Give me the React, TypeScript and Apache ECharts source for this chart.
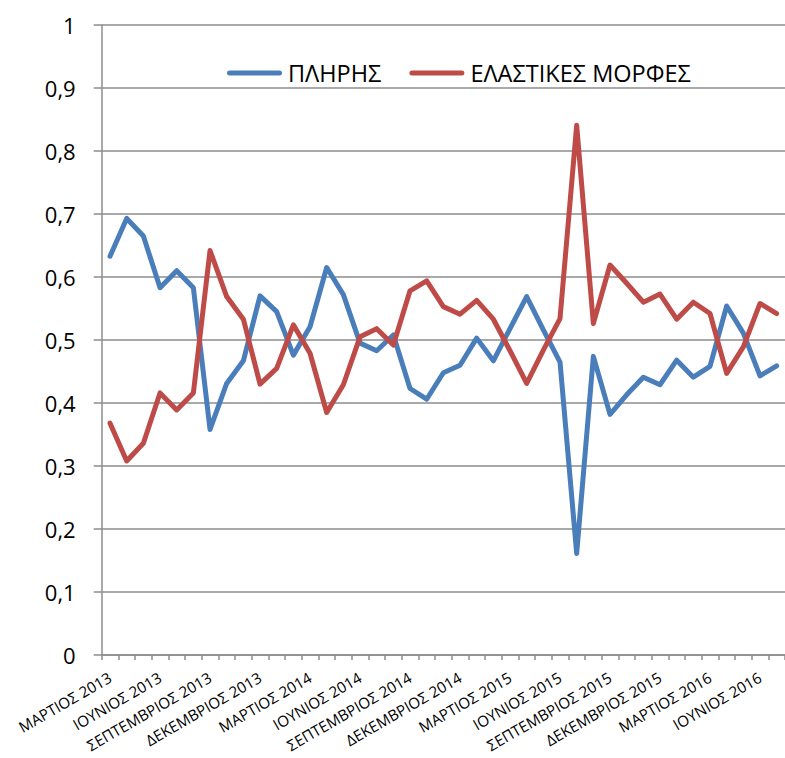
import React, { useEffect, useRef } from "react";
import * as echarts from "echarts";

// Monthly periods, March 2013 – July 2016
const categories: string[] = [
  "ΜΑΡΤΙΟΣ 2013", "ΑΠΡΙΛΙΟΣ 2013", "ΜΑΙΟΣ 2013", "ΙΟΥΝΙΟΣ 2013", "ΙΟΥΛΙΟΣ 2013", "ΑΥΓΟΥΣΤΟΣ 2013",
  "ΣΕΠΤΕΜΒΡΙΟΣ 2013", "ΟΚΤΩΒΡΙΟΣ 2013", "ΝΟΕΜΒΡΙΟΣ 2013", "ΔΕΚΕΜΒΡΙΟΣ 2013",
  "ΙΑΝΟΥΑΡΙΟΣ 2014", "ΦΕΒΡΟΥΑΡΙΟΣ 2014", "ΜΑΡΤΙΟΣ 2014", "ΑΠΡΙΛΙΟΣ 2014", "ΜΑΙΟΣ 2014", "ΙΟΥΝΙΟΣ 2014",
  "ΙΟΥΛΙΟΣ 2014", "ΑΥΓΟΥΣΤΟΣ 2014", "ΣΕΠΤΕΜΒΡΙΟΣ 2014", "ΟΚΤΩΒΡΙΟΣ 2014", "ΝΟΕΜΒΡΙΟΣ 2014", "ΔΕΚΕΜΒΡΙΟΣ 2014",
  "ΙΑΝΟΥΑΡΙΟΣ 2015", "ΦΕΒΡΟΥΑΡΙΟΣ 2015", "ΜΑΡΤΙΟΣ 2015", "ΑΠΡΙΛΙΟΣ 2015", "ΜΑΙΟΣ 2015", "ΙΟΥΝΙΟΣ 2015",
  "ΙΟΥΛΙΟΣ 2015", "ΑΥΓΟΥΣΤΟΣ 2015", "ΣΕΠΤΕΜΒΡΙΟΣ 2015", "ΟΚΤΩΒΡΙΟΣ 2015", "ΝΟΕΜΒΡΙΟΣ 2015", "ΔΕΚΕΜΒΡΙΟΣ 2015",
  "ΙΑΝΟΥΑΡΙΟΣ 2016", "ΦΕΒΡΟΥΑΡΙΟΣ 2016", "ΜΑΡΤΙΟΣ 2016", "ΑΠΡΙΛΙΟΣ 2016", "ΜΑΙΟΣ 2016", "ΙΟΥΝΙΟΣ 2016",
  "ΙΟΥΛΙΟΣ 2016",
];

// Share of full-time employment
const fullTime: number[] = [
  0.633, 0.693, 0.665, 0.583, 0.61, 0.583, 0.358, 0.431, 0.467, 0.57,
  0.545, 0.476, 0.521, 0.615, 0.572, 0.495, 0.483, 0.508, 0.423, 0.406,
  0.448, 0.46, 0.503, 0.467, 0.518, 0.569, 0.516, 0.465, 0.161, 0.474,
  0.382, 0.413, 0.441, 0.429, 0.468, 0.441, 0.458, 0.554, 0.511, 0.443,
  0.459,
];

// Share of flexible forms of employment
const flexible: number[] = [
  0.368, 0.308, 0.336, 0.416, 0.389, 0.416, 0.642, 0.569, 0.533, 0.43,
  0.455, 0.524, 0.479, 0.385, 0.429, 0.505, 0.518, 0.492, 0.578, 0.594,
  0.553, 0.541, 0.563, 0.533, 0.483, 0.431, 0.484, 0.534, 0.841, 0.526,
  0.619, 0.59, 0.56, 0.573, 0.533, 0.56, 0.542, 0.447, 0.489, 0.558,
  0.542,
];

const seriesNames = ["ΠΛΗΡΗΣ", "ΕΛΑΣΤΙΚΕΣ ΜΟΡΦΕΣ"];

const FONT = "'Open Sans', 'Noto Sans', sans-serif";
const GRID_COLOR = "#8c8c8c";
const LEGEND_ICON = "path://M2.5,0 H52.5 A2.5,2.5 0 0 1 52.5,5 H2.5 A2.5,2.5 0 0 1 2.5,0 Z";

export default function App() {
  const ref = useRef<HTMLDivElement>(null);

  useEffect(() => {
    if (!ref.current) return;
    const chart = echarts.init(ref.current, undefined, { renderer: "svg" });
    chart.setOption({
      animation: false,
      backgroundColor: "#ffffff",
      grid: {
        left: 101.7,
        right: 0,
        top: 25,
        bottom: 103,
        containLabel: false,
        outerBoundsMode: "none",
      },
      legend: {
        left: 227,
        top: 61,
        padding: 0,
        itemWidth: 55,
        itemHeight: 5,
        itemGap: 28,
        icon: LEGEND_ICON,
        textStyle: { fontFamily: FONT, fontSize: 23.5, color: "#000", padding: [0, 0, 0, 1] },
        data: seriesNames,
      },
      xAxis: {
        type: "category",
        data: categories,
        boundaryGap: true,
        axisLine: { lineStyle: { color: GRID_COLOR, width: 1.5 } },
        axisTick: { show: true, interval: 0, length: 5, lineStyle: { color: GRID_COLOR, width: 1.5 } },
        axisLabel: {
          interval: 2,
          rotate: 30,
          margin: 21,
          fontFamily: FONT,
          fontSize: 15.2,
          color: "#000",
        },
        splitLine: { show: false },
      },
      yAxis: {
        type: "value",
        min: 0,
        max: 1,
        interval: 0.1,
        axisLine: { show: true, lineStyle: { color: GRID_COLOR, width: 1.5 } },
        axisTick: { show: true, length: 8, lineStyle: { color: GRID_COLOR, width: 1.5 } },
        axisLabel: {
          margin: 26,
          fontFamily: FONT,
          fontSize: 22,
          color: "#000",
          formatter: (v: number) => String(Math.round(v * 10) / 10).replace(".", ","),
        },
        splitLine: { show: true, lineStyle: { color: GRID_COLOR, width: 1.5 } },
      },
      series: [
        {
          name: seriesNames[0],
          type: "line",
          data: fullTime,
          showSymbol: false,
          symbol: "none",
          color: "#4a7ebb",
          lineStyle: { width: 5, color: "#4a7ebb", cap: "round", join: "round" },
        },
        {
          name: seriesNames[1],
          type: "line",
          data: flexible,
          showSymbol: false,
          symbol: "none",
          color: "#be4b48",
          lineStyle: { width: 5, color: "#be4b48", cap: "round", join: "round" },
        },
      ],
    });
    return () => chart.dispose();
  }, []);

  return (
    <div
      ref={ref}
      style={{ position: "fixed", left: 0, top: 0, width: 785, height: 758, background: "#fff" }}
    />
  );
}
